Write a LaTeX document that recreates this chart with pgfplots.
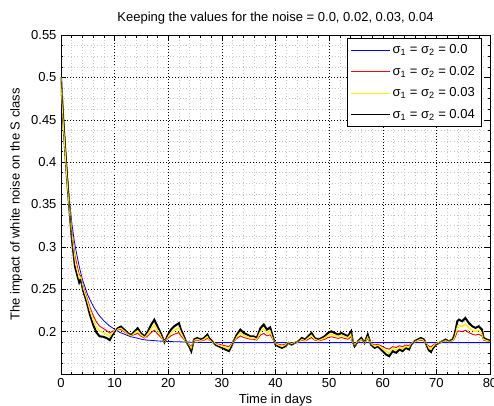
\documentclass[border=0pt]{standalone}
\usepackage{fontspec}
\setmainfont{Liberation Sans}
\usepackage{pgfplots}
\pgfplotsset{compat=1.18}

\begin{document}
\fontsize{13}{15}\selectfont
\begin{tikzpicture}
\clip (-61pt,-31pt) rectangle (433pt,374pt);
\begin{axis}[
    at={(0,0)}, anchor=south west,
    width=429pt, height=339pt, scale only axis,
    xmin=0, xmax=80,
    ymin=0.15, ymax=0.55,
    xtick={0,10,20,30,40,50,60,70,80},
    ytick={0.15,0.2,0.25,0.3,0.35,0.4,0.45,0.5,0.55},
    yticklabels={,0.2,0.25,0.3,0.35,0.4,0.45,0.5,0.55},
    minor x tick num=4,
    minor y tick num=3,
    grid=both,
    major grid style={black, line width=0.5pt, dash pattern=on 0.7pt off 2.3pt},
    minor grid style={black!22, line width=0.5pt, dash pattern=on 0.7pt off 2.6pt},
    tick align=inside,
    major tick length=5pt, minor tick length=2.5pt,
    tick style={black, line width=0.5pt},
    axis line style={line width=0.6pt},
    scaled y ticks=false,
    /pgf/number format/assume math mode=true,
    tick label style={font=\fontsize{13}{15}\selectfont},
    label style={font=\fontsize{13}{15}\selectfont},
    xlabel style={yshift=3pt},
    title style={font=\fontsize{13}{15}\selectfont},
    title={Keeping the values for the noise = 0.0, 0.02, 0.03, 0.04},
    xlabel={Time in days},
    ylabel={The impact of white noise on the S class},
    legend style={at={(0.979,0.99)}, anchor=north east, draw=black,
        fill=white, font=\fontsize{13}{15}\selectfont,
        inner xsep=4pt, inner ysep=4pt, row sep=6.5pt},
    legend cell align=left,
    legend image code/.code={\draw[#1, line width=0.5pt] (0pt,0pt) -- (39pt,0pt);},
]
% thick underlay of the sigma = 0.04 path
\addplot[black, line width=2pt, forget plot] table {
x y
0 0.500
0.5 0.441
1 0.392
1.5 0.350
2 0.311
2.6 0.277
3.1 0.265
3.4 0.258
3.7 0.262
4.1 0.249
4.75 0.236
5.4 0.220
6 0.208
6.6 0.199
7.2 0.1945
7.8 0.194
8.5 0.1925
9.1 0.190
9.4 0.194
10 0.2004
10.6 0.204
11.2 0.206
11.85 0.202
12.5 0.198
13.1 0.196
13.7 0.200
14.3 0.204
14.9 0.198
15.6 0.1945
16.2 0.200
16.8 0.208
17.4 0.214
18 0.206
18.6 0.198
19.3 0.1875
19.9 0.1955
20.5 0.2024
21.1 0.2063
22 0.210
22.35 0.2024
22.65 0.1984
23.3 0.1886
23.9 0.1827
24.3 0.177
24.8 0.1906
25.4 0.1925
26.05 0.1906
26.7 0.1925
27.3 0.1965
27.6 0.1925
28.2 0.1886
28.8 0.1847
29.4 0.1827
30.1 0.1808
30.7 0.1788
31.3 0.177
31.6 0.1808
32.2 0.1886
32.8 0.1965
33.45 0.2024
34.1 0.1984
34.7 0.1965
35.3 0.1945
35.9 0.1945
36.5 0.1925
37.2 0.2043
37.8 0.2083
38.4 0.2024
39 0.205
39.6 0.192
40 0.1847
40.55 0.1827
41.2 0.1808
41.8 0.1827
42.4 0.1867
43 0.1847
43.6 0.1867
44.3 0.1886
44.9 0.1925
45.5 0.1906
46.1 0.1945
46.7 0.1984
47.3 0.1925
48 0.1906
48.6 0.1925
49.2 0.1945
49.8 0.1984
50.4 0.2004
51 0.1984
51.7 0.1965
52.3 0.1984
52.9 0.1965
53.5 0.1945
54.1 0.2004
54.4 0.1886
54.75 0.1827
55.4 0.1886
56 0.1925
56.6 0.1867
57.2 0.1965
57.8 0.1847
58.5 0.1808
59.1 0.1827
59.4 0.1808
60 0.177
60.6 0.173
61.2 0.171
61.85 0.177
62.5 0.175
63.1 0.179
63.7 0.177
64.3 0.1808
64.9 0.179
65.3 0.1847
65.9 0.1886
66.5 0.1906
67.1 0.1925
67.7 0.1906
68 0.1867
68.6 0.178
69 0.176
69.3 0.180
69.9 0.1847
70.5 0.1867
71.1 0.1886
71.7 0.1906
72.35 0.1886
73 0.1906
73.3 0.1945
73.6 0.2024
73.9 0.2122
74.2 0.2141
74.8 0.2122
75.4 0.2161
76.05 0.2102
76.7 0.2063
77.3 0.2043
77.9 0.2063
78.5 0.2024
78.8 0.1925
79.4 0.1906
80 0.1895
};

% sigma = 0 (deterministic)
\addplot[blue, line width=0.8pt] coordinates {
(0,0.500)(0.5,0.444)(1,0.398)(1.5,0.360)(2,0.329)(2.5,0.306)(3,0.289)(3.5,0.274)
(4,0.2615)(5,0.243)(6,0.230)(7,0.220)(8,0.2127)(9,0.207)(10,0.2028)(11,0.199)
(12,0.1965)(13,0.194)(14,0.1926)(15,0.191)(16,0.190)(17,0.1896)(18,0.189)
(20,0.1883)(22,0.188)(25,0.1874)(30,0.187)(80,0.187)
};
\addlegendentry{σ\textsubscript{1} = σ\textsubscript{2} = 0.0}

% sigma = 0.02
\addplot[red, line width=0.9pt] coordinates {
(0,0.500)(0.5,0.4425)(1,0.395)(1.5,0.355)(2,0.320)(2.6,0.2898)(3.1,0.2755)
(3.4,0.2674)(3.7,0.2655)(4.1,0.2543)(4.75,0.2418)(5.4,0.2289)(6,0.219)(6.6,0.2115)
(7.2,0.2065)(7.8,0.2041)(8.5,0.2012)(9.1,0.1983)(9.4,0.1997)(10,0.2016)(10.6,0.2023)
(11.2,0.2023)(11.85,0.1995)(12.5,0.1966)(13.1,0.1950)(13.7,0.1965)(14.3,0.1981)
(14.9,0.1946)(15.6,0.1925)(16.2,0.1950)(16.8,0.1989)(17.4,0.2017)(18,0.1975)
(18.6,0.1934)(19.3,0.1880)(19.9,0.1919)(20.5,0.1950)(21.1,0.1969)(22,0.1988)
(22.35,0.1950)(22.65,0.1929)(23.3,0.1881)(23.9,0.1851)(24.3,0.1823)(24.8,0.1891)
(25.4,0.1900)(26.05,0.1891)(26.7,0.1900)(27.3,0.1920)(27.6,0.1900)(28.2,0.1881)
(28.8,0.1861)(29.4,0.1851)(30.1,0.1842)(30.7,0.1832)(31.3,0.1823)(31.6,0.1842)
(32.2,0.1881)(32.8,0.1920)(33.45,0.1950)(34.1,0.1930)(34.7,0.1920)(35.3,0.1910)
(35.9,0.1910)(36.5,0.1900)(37.2,0.1959)(37.8,0.1979)(38.4,0.1950)(39,0.1963)
(39.6,0.1898)(40,0.1861)(40.55,0.1851)(41.2,0.1842)(41.8,0.1851)(42.4,0.1871)
(43,0.1861)(43.6,0.1871)(44.3,0.1881)(44.9,0.1900)(45.5,0.1891)(46.1,0.1910)
(46.7,0.1930)(47.3,0.1900)(48,0.1891)(48.6,0.1900)(49.2,0.1910)(49.8,0.1930)
(50.4,0.1940)(51,0.1930)(51.7,0.1920)(52.3,0.1930)(52.9,0.1920)(53.5,0.1910)
(54.1,0.1940)(54.4,0.1881)(54.75,0.1851)(55.4,0.1881)(56,0.1900)(56.6,0.1871)
(57.2,0.1920)(57.8,0.1861)(58.5,0.1842)(59.1,0.1851)(59.4,0.1842)(60,0.1823)
(60.6,0.1803)(61.2,0.1793)(61.85,0.1823)(62.5,0.1813)(63.1,0.1833)(63.7,0.1823)
(64.3,0.1842)(64.9,0.1833)(65.3,0.1861)(65.9,0.1881)(66.5,0.1891)(67.1,0.1900)
(67.7,0.1891)(68,0.1871)(68.6,0.1828)(69,0.1818)(69.3,0.1838)(69.9,0.1861)
(70.5,0.1871)(71.1,0.1881)(71.7,0.1891)(72.35,0.1881)(73,0.1891)(73.3,0.1910)
(73.6,0.1950)(73.9,0.1999)(74.2,0.2008)(74.8,0.1999)(75.4,0.2018)(76.05,0.1989)
(76.7,0.1969)(77.3,0.1959)(77.9,0.1969)(78.5,0.1950)(78.8,0.1900)(79.4,0.1891)
(80,0.1885)
};
\addlegendentry{σ\textsubscript{1} = σ\textsubscript{2} = 0.02}

% sigma = 0.03
\addplot[yellow, line width=1.4pt] coordinates {
(0,0.500)(0.5,0.4418)(1,0.3935)(1.5,0.3525)(2,0.3155)(2.6,0.2834)(3.1,0.2703)
(3.4,0.2627)(3.7,0.2638)(4.1,0.2517)(4.75,0.2389)(5.4,0.2245)(6,0.2135)(6.6,0.2053)
(7.2,0.2005)(7.8,0.1991)(8.5,0.1969)(9.1,0.1942)(9.4,0.1968)(10,0.2010)(10.6,0.2031)
(11.2,0.2041)(11.85,0.2007)(12.5,0.1973)(13.1,0.1955)(13.7,0.1983)(14.3,0.2010)
(14.9,0.1963)(15.6,0.1935)(16.2,0.1975)(16.8,0.2034)(17.4,0.2079)(18,0.2018)
(18.6,0.1957)(19.3,0.1878)(19.9,0.1937)(20.5,0.1987)(21.1,0.2016)(22,0.2044)
(22.35,0.1987)(22.65,0.1957)(23.3,0.1883)(23.9,0.1839)(24.3,0.1796)(24.8,0.1898)
(25.4,0.1912)(26.05,0.1898)(26.7,0.1912)(27.3,0.1943)(27.6,0.1912)(28.2,0.1883)
(28.8,0.1854)(29.4,0.1839)(30.1,0.1825)(30.7,0.1810)(31.3,0.1796)(31.6,0.1825)
(32.2,0.1883)(32.8,0.1943)(33.45,0.1987)(34.1,0.1957)(34.7,0.1943)(35.3,0.1928)
(35.9,0.1928)(36.5,0.1912)(37.2,0.2001)(37.8,0.2031)(38.4,0.1987)(39,0.2006)
(39.6,0.1909)(40,0.1854)(40.55,0.1839)(41.2,0.1825)(41.8,0.1839)(42.4,0.1869)
(43,0.1854)(43.6,0.1869)(44.3,0.1883)(44.9,0.1912)(45.5,0.1898)(46.1,0.1928)
(46.7,0.1957)(47.3,0.1912)(48,0.1898)(48.6,0.1912)(49.2,0.1928)(49.8,0.1957)
(50.4,0.1972)(51,0.1957)(51.7,0.1943)(52.3,0.1957)(52.9,0.1943)(53.5,0.1928)
(54.1,0.1972)(54.4,0.1883)(54.75,0.1839)(55.4,0.1883)(56,0.1912)(56.6,0.1869)
(57.2,0.1943)(57.8,0.1854)(58.5,0.1825)(59.1,0.1839)(59.4,0.1825)(60,0.1796)
(60.6,0.1766)(61.2,0.1751)(61.85,0.1796)(62.5,0.1781)(63.1,0.1811)(63.7,0.1796)
(64.3,0.1825)(64.9,0.1811)(65.3,0.1854)(65.9,0.1883)(66.5,0.1898)(67.1,0.1912)
(67.7,0.1898)(68,0.1869)(68.6,0.1804)(69,0.1789)(69.3,0.1819)(69.9,0.1854)
(70.5,0.1869)(71.1,0.1883)(71.7,0.1898)(72.35,0.1883)(73,0.1898)(73.3,0.1928)
(73.6,0.1987)(73.9,0.2060)(74.2,0.2075)(74.8,0.2060)(75.4,0.2089)(76.05,0.2045)
(76.7,0.2016)(77.3,0.2001)(77.9,0.2016)(78.5,0.1987)(78.8,0.1912)(79.4,0.1898)
(80,0.1890)
};
\addlegendentry{σ\textsubscript{1} = σ\textsubscript{2} = 0.03}

% sigma = 0.04 (thin line on top, same path as the underlay)
\addplot[black, line width=0.5pt] table {
x y
0 0.500
2 0.311
2.6 0.277
3.1 0.265
3.4 0.258
3.7 0.262
4.1 0.249
4.75 0.236
5.4 0.220
6 0.208
6.6 0.199
7.2 0.1945
7.8 0.194
8.5 0.1925
9.1 0.190
9.4 0.194
10 0.2004
10.6 0.204
11.2 0.206
11.85 0.202
12.5 0.198
13.1 0.196
13.7 0.200
14.3 0.204
14.9 0.198
15.6 0.1945
16.2 0.200
16.8 0.208
17.4 0.214
18 0.206
18.6 0.198
19.3 0.1875
19.9 0.1955
20.5 0.2024
21.1 0.2063
22 0.210
22.35 0.2024
22.65 0.1984
23.3 0.1886
23.9 0.1827
24.3 0.177
24.8 0.1906
25.4 0.1925
26.05 0.1906
26.7 0.1925
27.3 0.1965
27.6 0.1925
28.2 0.1886
28.8 0.1847
29.4 0.1827
30.1 0.1808
30.7 0.1788
31.3 0.177
31.6 0.1808
32.2 0.1886
32.8 0.1965
33.45 0.2024
34.1 0.1984
34.7 0.1965
35.3 0.1945
35.9 0.1945
36.5 0.1925
37.2 0.2043
37.8 0.2083
38.4 0.2024
39 0.205
39.6 0.192
40 0.1847
40.55 0.1827
41.2 0.1808
41.8 0.1827
42.4 0.1867
43 0.1847
43.6 0.1867
44.3 0.1886
44.9 0.1925
45.5 0.1906
46.1 0.1945
46.7 0.1984
47.3 0.1925
48 0.1906
48.6 0.1925
49.2 0.1945
49.8 0.1984
50.4 0.2004
51 0.1984
51.7 0.1965
52.3 0.1984
52.9 0.1965
53.5 0.1945
54.1 0.2004
54.4 0.1886
54.75 0.1827
55.4 0.1886
56 0.1925
56.6 0.1867
57.2 0.1965
57.8 0.1847
58.5 0.1808
59.1 0.1827
59.4 0.1808
60 0.177
60.6 0.173
61.2 0.171
61.85 0.177
62.5 0.175
63.1 0.179
63.7 0.177
64.3 0.1808
64.9 0.179
65.3 0.1847
65.9 0.1886
66.5 0.1906
67.1 0.1925
67.7 0.1906
68 0.1867
68.6 0.178
69 0.176
69.3 0.180
69.9 0.1847
70.5 0.1867
71.1 0.1886
71.7 0.1906
72.35 0.1886
73 0.1906
73.3 0.1945
73.6 0.2024
73.9 0.2122
74.2 0.2141
74.8 0.2122
75.4 0.2161
76.05 0.2102
76.7 0.2063
77.3 0.2043
77.9 0.2063
78.5 0.2024
78.8 0.1925
79.4 0.1906
80 0.1895
};
\addlegendentry{σ\textsubscript{1} = σ\textsubscript{2} = 0.04}
\end{axis}
\end{tikzpicture}
\end{document}
